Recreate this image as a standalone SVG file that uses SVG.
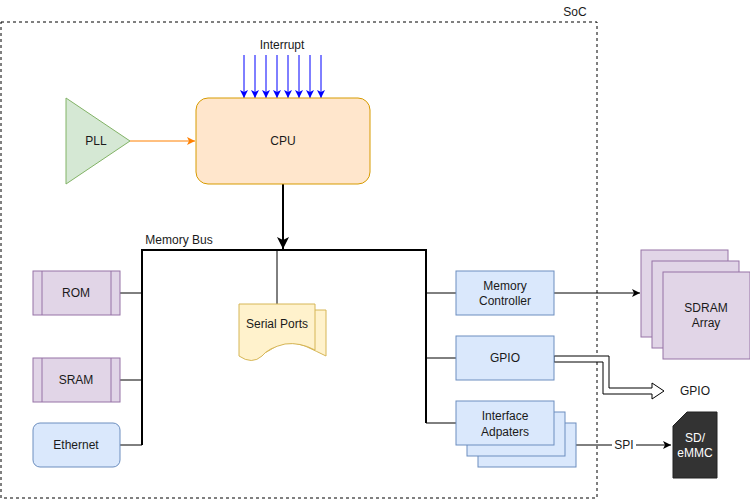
<svg xmlns="http://www.w3.org/2000/svg" width="750" height="500" viewBox="0 0 750 500">
<style>
text{font-family:"Liberation Sans",Arial,sans-serif;font-size:12px;fill:#1a1a1a;text-anchor:middle;dominant-baseline:central}
.blue{fill:#dae8fc;stroke:#6c8ebf;stroke-width:1}
.pur{fill:#e1d5e7;stroke:#9673a6;stroke-width:1}
.ln{fill:none;stroke:#000;stroke-width:1}
.bus{fill:none;stroke:#000;stroke-width:2}
</style>
<defs>
<marker id="ab" markerWidth="10" markerHeight="10" refX="8" refY="5" orient="auto" markerUnits="userSpaceOnUse"><path d="M0,1 L8,5 L0,9 L2,5Z" fill="#0000ff"/></marker>
<marker id="ao" markerWidth="10" markerHeight="10" refX="8" refY="5" orient="auto" markerUnits="userSpaceOnUse"><path d="M0,1 L8,5 L0,9 L2,5Z" fill="#ff8000"/></marker>
<marker id="ak" markerWidth="10" markerHeight="10" refX="8" refY="5" orient="auto" markerUnits="userSpaceOnUse"><path d="M0,1 L8,5 L0,9 L2,5Z" fill="#000"/></marker>
<marker id="akb" markerWidth="14" markerHeight="14" refX="12" refY="7" orient="auto" markerUnits="userSpaceOnUse"><path d="M0,1 L12,7 L0,13 L3,7Z" fill="#000"/></marker>
</defs>
<g id="soc"><rect x="1" y="22" width="596" height="476" fill="none" stroke="#000" stroke-dasharray="3,3"/><text x="575" y="12">SoC</text></g>
<g id="connectors">
<text x="282" y="45">Interrupt</text>
<g stroke="#0000ff" stroke-width="1" marker-end="url(#ab)">
<line x1="244" y1="55" x2="244" y2="98"/><line x1="255" y1="55" x2="255" y2="98"/><line x1="266" y1="55" x2="266" y2="98"/><line x1="277" y1="55" x2="277" y2="98"/><line x1="288" y1="55" x2="288" y2="98"/><line x1="299" y1="55" x2="299" y2="98"/><line x1="310" y1="55" x2="310" y2="98"/><line x1="321" y1="55" x2="321" y2="98"/>
</g>
<line x1="130" y1="141" x2="195" y2="141" stroke="#ff8000" marker-end="url(#ao)"/>
<line x1="283" y1="184" x2="283" y2="249" class="bus" marker-end="url(#akb)"/>
<path class="bus" d="M142,445 V250 H426 V423"/>
<text x="179" y="240">Memory Bus</text>
<path class="ln" d="M120,293H142M120,380H142M120,445H142M277,250V304M426,293H456M426,358H456M426,423H456"/>
<line x1="554" y1="293" x2="640" y2="293" class="ln" marker-end="url(#ak)"/>
<path d="M554,356 H609 V388 H652 V383 L664,391 L652,399 V394 H603 V362 H554 Z" fill="#fff" stroke="#000"/>
<line x1="576" y1="445" x2="671" y2="445" class="ln" marker-end="url(#ak)"/>
<rect x="612" y="438" width="24" height="14" fill="#fff"/><text x="624" y="445">SPI</text>
<text x="695" y="391">GPIO</text>
</g>
<g id="pll"><path d="M66,98 L130,141 L66,184Z" fill="#d5e8d4" stroke="#82b366"/><text x="96" y="141">PLL</text></g>
<g id="cpu"><rect x="196" y="98" width="174" height="86" rx="12" fill="#ffe6cc" stroke="#d79b00"/><text x="283" y="141">CPU</text></g>
<g id="rom"><rect class="pur" x="33" y="271" width="87" height="44"/><path class="ln" stroke="#9673a6" d="M42,271V315M111,271V315" style="stroke:#9673a6"/><text x="76" y="293">ROM</text></g>
<g id="sram"><rect class="pur" x="33" y="358" width="87" height="44"/><path d="M42,358V402M111,358V402" fill="none" stroke="#9673a6"/><text x="76" y="380">SRAM</text></g>
<g id="ethernet"><rect class="blue" x="33" y="423" width="87" height="44" rx="7"/><text x="76" y="445">Ethernet</text></g>
<g id="serial">
<path d="M250,310 H326 V356 Q318,352 305,346 Q285,338 270,350 Q258,358 250,354Z" fill="#fff2cc" stroke="#d6b656"/>
<path d="M239,304 H315 V350 Q300,342 285,344 Q268,348 262,356 Q252,365 239,356Z" fill="#fff2cc" stroke="#d6b656"/>
<text x="277" y="324">Serial Ports</text></g>
<g id="memctrl"><rect class="blue" x="456" y="271" width="98" height="44"/><text x="505" y="286">Memory</text><text x="505" y="301">Controller</text></g>
<g id="gpio"><rect class="blue" x="456" y="336" width="98" height="44"/><text x="505" y="358">GPIO</text></g>
<g id="iface"><rect class="blue" x="478" y="423" width="98" height="44"/><rect class="blue" x="467" y="412" width="98" height="44"/><rect class="blue" x="456" y="401" width="98" height="44"/><text x="505" y="416">Interface</text><text x="505" y="432">Adpaters</text></g>
<g id="sdram"><rect class="pur" x="641" y="250" width="87" height="87"/><rect class="pur" x="652" y="261" width="87" height="87"/><rect class="pur" x="663" y="272" width="87" height="87"/><text x="706" y="308">SDRAM</text><text x="706" y="323">Array</text></g>
<g id="sd"><path d="M687,412 H717 V478 H673 V426Z" fill="#333" stroke="#222"/><text x="695" y="438" style="fill:#fff">SD/</text><text x="695" y="453" style="fill:#fff">eMMC</text></g>
</svg>
